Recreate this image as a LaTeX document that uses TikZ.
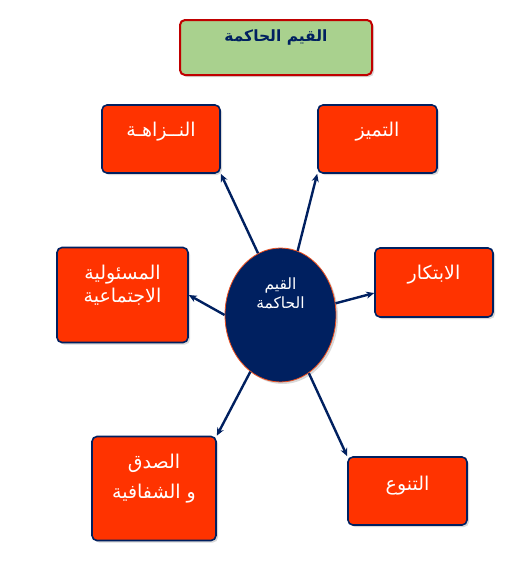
\documentclass[tikz,border=0pt]{standalone}
\usepackage{fontspec}
\newfontfamily\arabicfont[Script=Arabic]{DejaVu Sans}
\TeXXeTstate=1
\usetikzlibrary{arrows.meta,shapes.geometric,shadows}
\definecolor{valred}{RGB}{255,51,0}
\definecolor{valnavy}{RGB}{0,32,96}
\definecolor{titlegreen}{RGB}{169,209,142}
\definecolor{titlered}{RGB}{192,0,0}
\definecolor{edgeorange}{RGB}{240,80,30}
\tikzset{
  valbox/.style={
    rounded corners=5pt,
    draw=valnavy,
    line width=1.6pt,
    fill=valred,
    text=white,
    align=center,
    minimum width=118pt,
    minimum height=68pt,
    text depth=20pt,
    font=\arabicfont\fontsize{19}{23}\selectfont,
    drop shadow={shadow xshift=2pt, shadow yshift=-2pt, opacity=0.3}
  },
  titlebox/.style={valbox, fill=titlegreen, draw=titlered, line width=2pt,
    text=valnavy, minimum width=192pt, minimum height=55pt, text depth=23pt,
    font=\arabicfont\bfseries\fontsize{15.5}{20}\selectfont},
  hubnode/.style={ellipse, draw=edgeorange, line width=0.8pt, fill=valnavy,
    text=white, align=center, inner sep=0pt, minimum width=111pt,
    minimum height=134pt, text depth=44pt,
    font=\arabicfont\fontsize{15.5}{19}\selectfont,
    drop shadow={shadow xshift=2pt, shadow yshift=-2pt, opacity=0.3}},
  link/.style={-{Stealth[length=8pt,width=7pt]}, line width=2.4pt, draw=valnavy}
}

\begin{document}
\begin{tikzpicture}[x=1pt, y=-1pt]
  \useasboundingbox (0,0) rectangle (525,563);
  \node[titlebox] (title) at (276,47.5) {\beginR القيم الحاكمة\endR};
  \node[hubnode] (hub) at (280.5,315) {\beginR القيم\endR\\\beginR الحاكمة\endR};
  \node[valbox] (nazaha) at (161,139) {\beginR النــزاهـة\endR};
  \node[valbox, minimum width=119pt] (tamayuz) at (377.5,139) {\beginR التميز\endR};
  \node[valbox, minimum width=131pt, minimum height=95pt, text depth=22pt] (masuliya) at (122.5,295)
    {\beginR المسئولية\endR\\\beginR الاجتماعية\endR};
  \node[valbox, minimum height=69pt] (ibtikar) at (434,282.5) {\beginR الابتكار\endR};
  \node[valbox, minimum width=124pt, minimum height=104pt, text depth=24pt] (sidq) at (154,488.5)
    {\beginR الصدق\endR\\[7pt]\beginR و الشفافية\endR};
  \node[valbox, minimum width=119pt, text depth=16pt] (tanawwu) at (407.5,491) {\beginR التنوع\endR};
  \draw[link] (hub.110) -- (nazaha.south east);
  \draw[link] (hub.75) -- (tamayuz.south west);
  \draw[link] (hub.west) -- (masuliya.east);
  \draw[link] (hub.12) -- (ibtikar.190);
  \draw[link] (hub.242) -- (sidq.north east);
  \draw[link] (hub.296) -- (tanawwu.north west);
\end{tikzpicture}
\end{document}
